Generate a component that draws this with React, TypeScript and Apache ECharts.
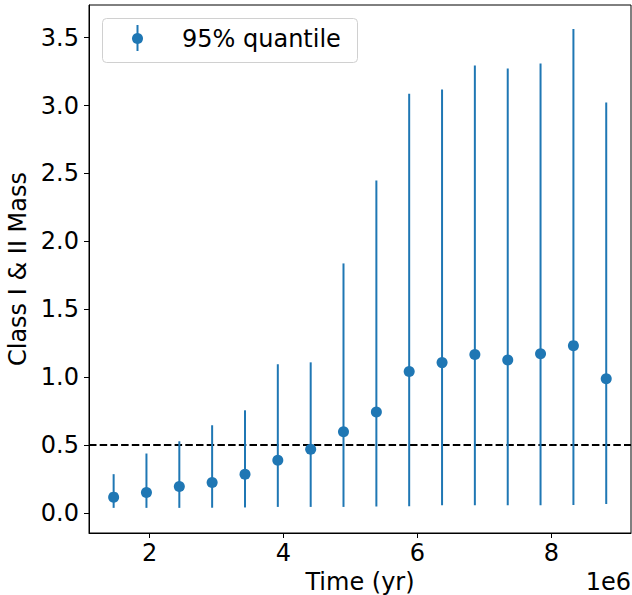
import React, { useEffect, useRef } from "react";
import * as echarts from "echarts";

// Time in years
const times = [
  1.463e6, 1.953e6, 2.444e6, 2.934e6, 3.425e6, 3.915e6, 4.406e6, 4.896e6,
  5.387e6, 5.877e6, 6.368e6, 6.858e6, 7.349e6, 7.839e6, 8.33e6, 8.82e6,
];
const medians = [
  0.118, 0.152, 0.196, 0.226, 0.287, 0.39, 0.47, 0.6, 0.745, 1.042, 1.108,
  1.167, 1.127, 1.174, 1.233, 0.99,
];
const lows = [
  0.039, 0.039, 0.039, 0.04, 0.042, 0.046, 0.046, 0.046, 0.049, 0.051, 0.058,
  0.059, 0.059, 0.059, 0.06, 0.068,
];
const highs = [
  0.287, 0.439, 0.529, 0.647, 0.757, 1.096, 1.11, 1.838, 2.449, 3.086, 3.118,
  3.294, 3.272, 3.309, 3.564, 3.022,
];
const xTicks = [2e6, 4e6, 6e6, 8e6];
const yTicks = [0, 0.5, 1.0, 1.5, 2.0, 2.5, 3.0, 3.5];
const threshold = 0.5;
const legendLabel = "95% quantile";

const BLUE = "#1f77b4";
const FONT = "DejaVu Sans";

export default function App() {
  const ref = useRef<HTMLDivElement>(null);
  useEffect(() => {
    if (!ref.current) return;
    const chart = echarts.init(ref.current, null, { renderer: "svg" });
    const pointData = times.map((t, i) => [t, medians[i]]);
    const barData = times.map((t, i) => [t, lows[i], highs[i]]);
    chart.setOption({
      animation: false,
      backgroundColor: "#fff",
      textStyle: { fontFamily: FONT },
      grid: {
        left: 89,
        right: 1,
        top: 5,
        bottom: 62,
        outerBoundsMode: "none",
        containLabel: false,
        show: true,
        borderColor: "#000",
        borderWidth: 1,
        backgroundColor: "transparent",
      },
      xAxis: {
        type: "value",
        min: 1.095e6,
        max: 9.19e6,
        name: "Time (yr)",
        nameLocation: "middle",
        nameGap: 36,
        nameTextStyle: { fontSize: 24, color: "#000", fontFamily: FONT },
        axisLine: { show: true, onZero: false, lineStyle: { color: "#000", width: 1 } },
        axisTick: {
          show: true,
          inside: false,
          length: 5,
          customValues: xTicks,
          lineStyle: { color: "#000", width: 1 },
        },
        axisLabel: {
          customValues: xTicks,
          fontSize: 24,
          color: "#000",
          fontFamily: FONT,
          margin: 8,
          formatter: (v: number) => String(Math.round(v / 1e6)),
        },
        splitLine: { show: false },
      },
      yAxis: {
        type: "value",
        min: -0.146,
        max: 3.74,
        name: "Class I & II Mass",
        nameLocation: "middle",
        nameGap: 56,
        nameTextStyle: { fontSize: 24, color: "#000", fontFamily: FONT },
        axisLine: { show: true, onZero: false, lineStyle: { color: "#000", width: 1 } },
        axisTick: {
          show: true,
          inside: false,
          length: 5,
          customValues: yTicks,
          lineStyle: { color: "#000", width: 1 },
        },
        axisLabel: {
          customValues: yTicks,
          fontSize: 24,
          color: "#000",
          fontFamily: FONT,
          margin: 10,
          formatter: (v: number) => v.toFixed(1),
        },
        splitLine: { show: false },
      },
      series: [
        {
          type: "custom",
          data: barData,
          renderItem: (params: any, api: any) => {
            const p1 = api.coord([api.value(0), api.value(1)]);
            const p2 = api.coord([api.value(0), api.value(2)]);
            return {
              type: "line",
              shape: { x1: p1[0], y1: p1[1], x2: p2[0], y2: p2[1] },
              style: { stroke: BLUE, lineWidth: 2 },
            };
          },
          z: 2,
          silent: true,
        },
        {
          type: "scatter",
          data: pointData,
          symbol: "circle",
          symbolSize: 11,
          itemStyle: { color: BLUE, opacity: 1 },
          z: 3,
          silent: true,
          markLine: {
            silent: true,
            symbol: ["none", "none"],
            label: { show: false },
            lineStyle: { color: "#000", width: 2, type: [7.5, 3.2] },
            data: [{ yAxis: threshold }],
            z: 1,
          },
        },
      ],
      graphic: [
        {
          type: "rect",
          shape: { x: 102.5, y: 18.5, width: 255, height: 44, r: 4 },
          style: { fill: "rgba(255,255,255,0.8)", stroke: "#d0d0d0", lineWidth: 1 },
          z: 10,
        },
        {
          type: "line",
          shape: { x1: 137.5, y1: 25, x2: 137.5, y2: 51 },
          style: { stroke: BLUE, lineWidth: 2 },
          z: 11,
        },
        {
          type: "circle",
          shape: { cx: 137.5, cy: 38.5, r: 5.5 },
          style: { fill: BLUE },
          z: 11,
        },
        {
          type: "text",
          x: 182,
          y: 39,
          style: {
            text: legendLabel,
            fontSize: 24,
            fontFamily: FONT,
            fill: "#000",
            align: "left",
            verticalAlign: "middle",
          },
          z: 11,
        },
        {
          type: "text",
          x: 631,
          y: 582,
          style: {
            text: "1e6",
            fontSize: 24,
            fontFamily: FONT,
            fill: "#000",
            align: "right",
            verticalAlign: "middle",
          },
        },
      ],
    });
    return () => chart.dispose();
  }, []);
  return (
    <div
      ref={ref}
      style={{ position: "fixed", left: 0, top: 0, width: 632, height: 595 }}
    />
  );
}
